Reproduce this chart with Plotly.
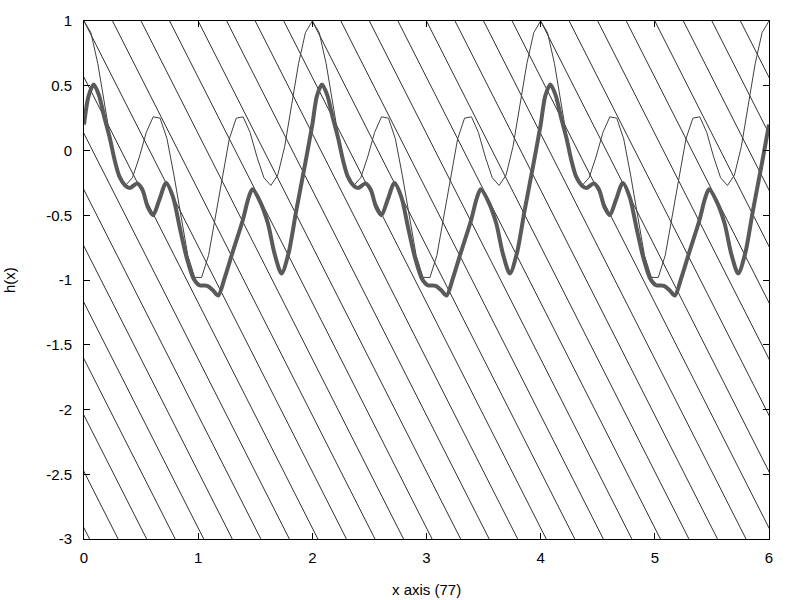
import plotly.graph_objects as go

# thin curve, sampled at 100 points over [0, 6]
thin_x = [
    0.0, 0.0606, 0.1212, 0.1818, 0.2424, 0.3030, 0.3636, 0.4242, 0.4848, 0.5455,
    0.6061, 0.6667, 0.7273, 0.7879, 0.8485, 0.9091, 0.9697, 1.0303, 1.0909, 1.1515,
    1.2121, 1.2727, 1.3333, 1.3939, 1.4545, 1.5152, 1.5758, 1.6364, 1.6970, 1.7576,
    1.8182, 1.8788, 1.9394, 2.0, 2.0606, 2.1212, 2.1818, 2.2424, 2.3030, 2.3636,
    2.4242, 2.4848, 2.5455, 2.6061, 2.6667, 2.7273, 2.7879, 2.8485, 2.9091, 2.9697,
    3.0303, 3.0909, 3.1515, 3.2121, 3.2727, 3.3333, 3.3939, 3.4545, 3.5152, 3.5758,
    3.6364, 3.6970, 3.7576, 3.8182, 3.8788, 3.9394, 4.0, 4.0606, 4.1212, 4.1818,
    4.2424, 4.3030, 4.3636, 4.4242, 4.4848, 4.5455, 4.6061, 4.6667, 4.7273, 4.7879,
    4.8485, 4.9091, 4.9697, 5.0303, 5.0909, 5.1515, 5.2121, 5.2727, 5.3333, 5.3939,
    5.4545, 5.5152, 5.5758, 5.6364, 5.6970, 5.7576, 5.8182, 5.8788, 5.9394, 6.0,
]
thin_y = [
    1.00, 0.91, 0.67, 0.35, 0.03, -0.19, -0.27, -0.21, -0.05, 0.14,
    0.26, 0.25, 0.09, -0.19, -0.51, -0.81, -0.98, -0.98, -0.81, -0.51,
    -0.19, 0.09, 0.25, 0.26, 0.14, -0.05, -0.21, -0.27, -0.19, 0.03,
    0.35, 0.67, 0.91, 1.00, 0.91, 0.67, 0.35, 0.03, -0.19, -0.27,
    -0.21, -0.05, 0.14, 0.26, 0.25, 0.09, -0.19, -0.51, -0.81, -0.98,
    -0.98, -0.81, -0.51, -0.19, 0.09, 0.25, 0.26, 0.14, -0.05, -0.21,
    -0.27, -0.19, 0.03, 0.35, 0.67, 0.91, 1.00, 0.91, 0.67, 0.35,
    0.03, -0.19, -0.27, -0.21, -0.05, 0.14, 0.26, 0.25, 0.09, -0.19,
    -0.51, -0.81, -0.98, -0.98, -0.81, -0.51, -0.19, 0.09, 0.25, 0.26,
    0.14, -0.05, -0.21, -0.27, -0.19, 0.03, 0.35, 0.67, 0.91, 1.00,
]

# thick curve h(x)
h_x = [
    0.00, 0.04, 0.085, 0.13, 0.18, 0.225, 0.27, 0.31, 0.36, 0.40, 0.465, 0.51,
    0.56, 0.605, 0.66, 0.72, 0.78, 0.84, 0.90, 0.96, 1.01, 1.08, 1.13, 1.175,
    1.23, 1.30, 1.39, 1.44, 1.475, 1.54, 1.61, 1.67, 1.73, 1.79, 1.86, 1.94,
    2.00, 2.04, 2.085, 2.13, 2.18, 2.225, 2.27, 2.31, 2.36, 2.40, 2.465, 2.51,
    2.56, 2.605, 2.66, 2.72, 2.78, 2.84, 2.90, 2.96, 3.01, 3.08, 3.13, 3.175,
    3.23, 3.30, 3.39, 3.44, 3.475, 3.54, 3.61, 3.67, 3.73, 3.79, 3.86, 3.94,
    4.00, 4.04, 4.085, 4.13, 4.18, 4.225, 4.27, 4.31, 4.36, 4.40, 4.465, 4.51,
    4.56, 4.605, 4.66, 4.72, 4.78, 4.84, 4.90, 4.96, 5.01, 5.08, 5.13, 5.175,
    5.23, 5.30, 5.39, 5.44, 5.475, 5.54, 5.61, 5.67, 5.73, 5.79, 5.86, 5.94,
    6.00,
]
h_y = [
    0.20, 0.42, 0.51, 0.43, 0.25, 0.10, -0.08, -0.20, -0.27, -0.29, -0.255, -0.30,
    -0.44, -0.50, -0.38, -0.25, -0.36, -0.60, -0.83, -0.99, -1.04, -1.045, -1.08, -1.12,
    -0.99, -0.79, -0.54, -0.37, -0.30, -0.39, -0.56, -0.80, -0.95, -0.80, -0.46, -0.09,
    0.20, 0.42, 0.51, 0.43, 0.25, 0.10, -0.08, -0.20, -0.27, -0.29, -0.255, -0.30,
    -0.44, -0.50, -0.38, -0.25, -0.36, -0.60, -0.83, -0.99, -1.04, -1.045, -1.08, -1.12,
    -0.99, -0.79, -0.54, -0.37, -0.30, -0.39, -0.56, -0.80, -0.95, -0.80, -0.46, -0.09,
    0.20, 0.42, 0.51, 0.43, 0.25, 0.10, -0.08, -0.20, -0.27, -0.29, -0.255, -0.30,
    -0.44, -0.50, -0.38, -0.25, -0.36, -0.60, -0.83, -0.99, -1.04, -1.045, -1.08, -1.12,
    -0.99, -0.79, -0.54, -0.37, -0.30, -0.39, -0.56, -0.80, -0.95, -0.80, -0.46, -0.09,
    0.20,
]

# diagonal hatch lines: where each one meets the top edge (y = 1), and their slope
hatch_top_x = [
    -2.25, -2.0, -1.75, -1.5, -1.25, -1.0, -0.75, -0.5, -0.25, 0.0, 0.25,
    0.5, 0.75, 1.0, 1.25, 1.5, 1.75, 2.0, 2.25, 2.5, 2.75, 3.0, 3.25,
    3.5, 3.75, 4.0, 4.25, 4.5, 4.75, 5.0, 5.25, 5.5, 5.75,
]
hatch_slope = -1.74

x_ticks = [0, 1, 2, 3, 4, 5, 6]
x_tick_labels = ['0', '1', '2', '3', '4', '5', '6']
y_ticks = [-3, -2.5, -2, -1.5, -1, -0.5, 0, 0.5, 1]
y_tick_labels = ['-3', '-2.5', '-2', '-1.5', '-1', '-0.5', '0', '0.5', '1']

FONT = 'Liberation Sans'
FONT_SIZE = 15

# build the hatch as one trace with gaps; the plot area clips the ends
hx, hy = [], []
for t in hatch_top_x:
    y_top, y_bot = 1.0, -3.0
    hx += [t, t + (y_bot - y_top) / hatch_slope, None]
    hy += [y_top, y_bot, None]

fig = go.Figure()
fig.add_trace(go.Scatter(x=hx, y=hy, mode='lines',
                         line=dict(color='#303030', width=1),
                         hoverinfo='skip', showlegend=False))
fig.add_trace(go.Scatter(x=thin_x, y=thin_y, mode='lines',
                         line=dict(color='#404040', width=1),
                         showlegend=False))
fig.add_trace(go.Scatter(x=h_x, y=h_y, mode='lines',
                         line=dict(color='#5a5a5a', width=4, shape='spline', smoothing=0.8),
                         showlegend=False))

axis_common = dict(showgrid=False, zeroline=False, showline=True,
                   linecolor='black', linewidth=1, mirror='ticks',
                   ticks='inside', ticklen=6, tickcolor='black',
                   tickfont=dict(family=FONT, size=FONT_SIZE, color='black'))

fig.update_xaxes(range=[0, 6], tickvals=x_ticks, ticktext=x_tick_labels,
                 ticklabelstandoff=5, **axis_common)
fig.update_yaxes(range=[-3, 1], tickvals=y_ticks, ticktext=y_tick_labels,
                 ticklabelstandoff=8, **axis_common)

fig.add_annotation(text='x axis (77)', xref='paper', yref='paper', x=0.5, y=0,
                   xanchor='center', yanchor='middle', yshift=-50, showarrow=False,
                   font=dict(family=FONT, size=FONT_SIZE, color='black'))
fig.add_annotation(text='h(x)', xref='paper', yref='paper', x=0, y=0.5,
                   xanchor='center', yanchor='middle', xshift=-75, textangle=-90,
                   showarrow=False, font=dict(family=FONT, size=FONT_SIZE, color='black'))

fig.update_layout(width=800, height=600, plot_bgcolor='white', paper_bgcolor='white',
                  margin=dict(l=84, r=31, t=21, b=61), showlegend=False)

# drop the page's default body margin so the 800x600 figure fills the window
fig.write_html("out.html", config={'displayModeBar': False},
               post_script="document.body.style.margin = '0';")
